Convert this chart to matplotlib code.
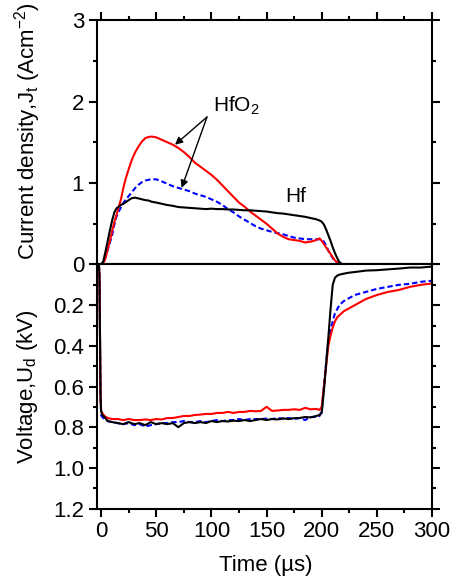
import matplotlib
matplotlib.use("Agg")
import matplotlib.pyplot as plt
from matplotlib.ticker import MultipleLocator

plt.rcParams["font.family"] = ["Liberation Sans", "DejaVu Sans"]
plt.rcParams["mathtext.default"] = "regular"

# --- current density (top panel), shared time grid, us ---
t_cur = [-2, 0, 2, 4, 6, 8, 10, 12, 14, 16,
         18, 20, 22, 25, 28, 31, 34, 37, 40, 43,
         46, 50, 55, 60, 65, 70, 75, 80, 85, 90,
         95, 100, 105, 110, 115, 120, 125, 130, 135, 140,
         145, 150, 155, 160, 165, 170, 175, 180, 185, 190,
         195, 198, 200, 202, 204, 206, 208, 210, 212, 214,
         216, 218, 220, 230, 250, 270, 300]
j_hf = [0, 0, 0.04, 0.16, 0.29, 0.42, 0.54, 0.64, 0.69, 0.71,
        0.73, 0.745, 0.76, 0.79, 0.815, 0.82, 0.81, 0.80, 0.79, 0.785,
        0.77, 0.76, 0.745, 0.73, 0.72, 0.705, 0.70, 0.695, 0.69, 0.685,
        0.68, 0.685, 0.68, 0.68, 0.675, 0.675, 0.67, 0.665, 0.665, 0.66,
        0.655, 0.65, 0.64, 0.63, 0.625, 0.615, 0.605, 0.595, 0.585, 0.57,
        0.555, 0.54, 0.525, 0.49, 0.43, 0.36, 0.29, 0.21, 0.14, 0.08,
        0.03, 0.01, 0, 0, 0, 0, 0]
j_hfo2_red = [0, 0, 0.01, 0.08, 0.19, 0.29, 0.41, 0.52, 0.61, 0.71,
              0.80, 0.93, 1.04, 1.17, 1.29, 1.38, 1.45, 1.51, 1.55, 1.565,
              1.57, 1.56, 1.53, 1.50, 1.47, 1.43, 1.38, 1.32, 1.25, 1.20,
              1.15, 1.10, 1.04, 0.97, 0.90, 0.83, 0.76, 0.71, 0.65, 0.60,
              0.55, 0.50, 0.44, 0.38, 0.34, 0.31, 0.30, 0.29, 0.27, 0.28,
              0.30, 0.32, 0.29, 0.25, 0.21, 0.17, 0.13, 0.09, 0.05, 0.03,
              0.01, 0, 0, 0, 0, 0, 0]
j_hfo2_blue = [0, 0, 0.02, 0.09, 0.18, 0.27, 0.36, 0.49, 0.59, 0.65,
               0.70, 0.75, 0.79, 0.84, 0.89, 0.94, 0.98, 1.01, 1.03, 1.04,
               1.045, 1.045, 1.02, 0.99, 0.96, 0.94, 0.92, 0.90, 0.87, 0.85,
               0.83, 0.80, 0.77, 0.73, 0.68, 0.64, 0.59, 0.55, 0.51, 0.47,
               0.44, 0.42, 0.40, 0.385, 0.37, 0.35, 0.33, 0.32, 0.31, 0.31,
               0.31, 0.31, 0.31, 0.28, 0.23, 0.17, 0.12, 0.08, 0.04, 0.02,
               0.01, 0, 0, 0, 0, 0, 0]

# --- discharge voltage (bottom panel), kV ---
t_volt = [-2, -1.5, -1, -0.5, 0, 1, 3, 6, 10, 15,
          20, 25, 30, 35, 40, 45, 50, 55, 60, 65,
          70, 75, 80, 85, 90, 95, 100, 105, 110, 115,
          120, 125, 130, 135, 140, 145, 150, 155, 160, 165,
          170, 175, 180, 185, 190, 195, 198, 200, 202, 204,
          206, 208, 210, 212, 214, 216, 220, 225, 230, 240,
          250, 260, 270, 280, 290, 300]
u_hf = [0, 0.05, 0.35, 0.65, 0.72, 0.74, 0.75, 0.77, 0.775, 0.78,
        0.785, 0.775, 0.785, 0.78, 0.79, 0.775, 0.785, 0.78, 0.785, 0.78,
        0.80, 0.78, 0.775, 0.78, 0.775, 0.78, 0.77, 0.775, 0.77, 0.772,
        0.768, 0.77, 0.765, 0.77, 0.765, 0.76, 0.765, 0.76, 0.762, 0.757,
        0.76, 0.756, 0.755, 0.75, 0.752, 0.745, 0.74, 0.73, 0.62, 0.49,
        0.36, 0.22, 0.10, 0.065, 0.055, 0.05, 0.045, 0.04, 0.037, 0.03,
        0.028, 0.024, 0.02, 0.015, 0.015, 0.01]
u_hfo2_red = [0, 0.05, 0.35, 0.65, 0.72, 0.73, 0.745, 0.755, 0.76, 0.76,
              0.765, 0.76, 0.765, 0.765, 0.762, 0.765, 0.76, 0.762, 0.755, 0.755,
              0.75, 0.745, 0.745, 0.74, 0.738, 0.735, 0.735, 0.73, 0.73, 0.725,
              0.73, 0.725, 0.725, 0.72, 0.722, 0.72, 0.70, 0.72, 0.718, 0.715,
              0.715, 0.712, 0.715, 0.705, 0.712, 0.71, 0.715, 0.70, 0.60, 0.50,
              0.40, 0.35, 0.31, 0.28, 0.26, 0.25, 0.23, 0.215, 0.20, 0.17,
              0.15, 0.135, 0.125, 0.11, 0.10, 0.093]
u_hfo2_blue = [0, 0.05, 0.35, 0.65, 0.74, 0.75, 0.76, 0.77, 0.775, 0.78,
               0.785, 0.78, 0.79, 0.785, 0.797, 0.79, 0.785, 0.78, 0.78, 0.775,
               0.775, 0.77, 0.775, 0.775, 0.77, 0.775, 0.77, 0.765, 0.77, 0.765,
               0.765, 0.76, 0.765, 0.76, 0.76, 0.76, 0.758, 0.76, 0.755, 0.758,
               0.755, 0.76, 0.755, 0.765, 0.75, 0.75, 0.745, 0.72, 0.60, 0.48,
               0.38, 0.32, 0.28, 0.24, 0.22, 0.20, 0.18, 0.165, 0.15, 0.135,
               0.12, 0.11, 0.10, 0.095, 0.085, 0.08]

x_ticks = [0, 50, 100, 150, 200, 250, 300]
j_ticks = [0, 1, 2, 3]
u_ticks = [0.2, 0.4, 0.6, 0.8, 1.0, 1.2]

RED, BLUE = "#ff0000", "#0000ff"
LW = 1.5

fig = plt.figure(figsize=(4.51, 5.77), dpi=100)
ax1 = fig.add_axes([0.2144, 0.5416, 0.7435, 0.4237])
ax2 = fig.add_axes([0.2144, 0.1187, 0.7435, 0.4229])

ax1.plot(t_cur, j_hfo2_blue, color=BLUE, lw=LW, ls=(0, (2.6, 1.4)))
ax1.plot(t_cur, j_hfo2_red, color=RED, lw=LW)
ax1.plot(t_cur, j_hf, color="k", lw=LW)

ax2.plot(t_volt, u_hfo2_blue, color=BLUE, lw=LW, ls=(0, (2.6, 1.4)))
ax2.plot(t_volt, u_hfo2_red, color=RED, lw=LW)
ax2.plot(t_volt, u_hf, color="k", lw=LW)

for ax in (ax1, ax2):
    ax.set_xlim(-4, 300)
    ax.set_xticks(x_ticks)
    ax.xaxis.set_minor_locator(MultipleLocator(25))
    for s in ax.spines.values():
        s.set_linewidth(1.5)
    ax.tick_params(which="major", direction="out", length=6, width=1.5,
                   labelsize=16, pad=3)
    ax.tick_params(which="minor", direction="out", length=3, width=1.5)

ax1.set_ylim(0, 3)
ax1.set_yticks(j_ticks)
ax1.yaxis.set_minor_locator(MultipleLocator(0.5))
ax1.tick_params(axis="x", which="both", top=True, bottom=False,
                labelbottom=False)
ax1.tick_params(axis="y", which="both", right=True)

ax2.set_ylim(1.2, 0)
ax2.set_yticks(u_ticks)
ax2.set_yticklabels([f"{v:.1f}" for v in u_ticks])
ax2.yaxis.set_minor_locator(MultipleLocator(0.1))
ax2.tick_params(axis="x", which="both", top=False, bottom=True)
ax2.tick_params(axis="y", which="both", right=True)

arrow = dict(arrowstyle="-|>", color="k", lw=1.0, mutation_scale=11,
             shrinkA=0, shrinkB=0)
ax1.annotate("", xy=(67, 1.47), xytext=(96, 1.81), arrowprops=arrow)
ax1.annotate("", xy=(73, 0.94), xytext=(96, 1.81), arrowprops=arrow)
ax1.text(101.5, 1.87, "HfO$_2$", fontsize=15, ha="left", va="baseline")
ax1.text(166.5, 0.77, "Hf", fontsize=15, ha="left", va="baseline")

fig.text(28 / 451, 1 - 131 / 577, "Current density,J$_t$ (Acm$^{-2}$)",
         rotation=90, ha="center", va="center", fontsize=16)
fig.text(28 / 451, 1 - 387 / 577, "Voltage,U$_d$ (kV)",
         rotation=90, ha="center", va="center", fontsize=16)
fig.text(266 / 451, 1 - 566 / 577, "Time (\u00b5s)",
         ha="center", va="center", fontsize=16)

fig.savefig("out.png", dpi=100)
